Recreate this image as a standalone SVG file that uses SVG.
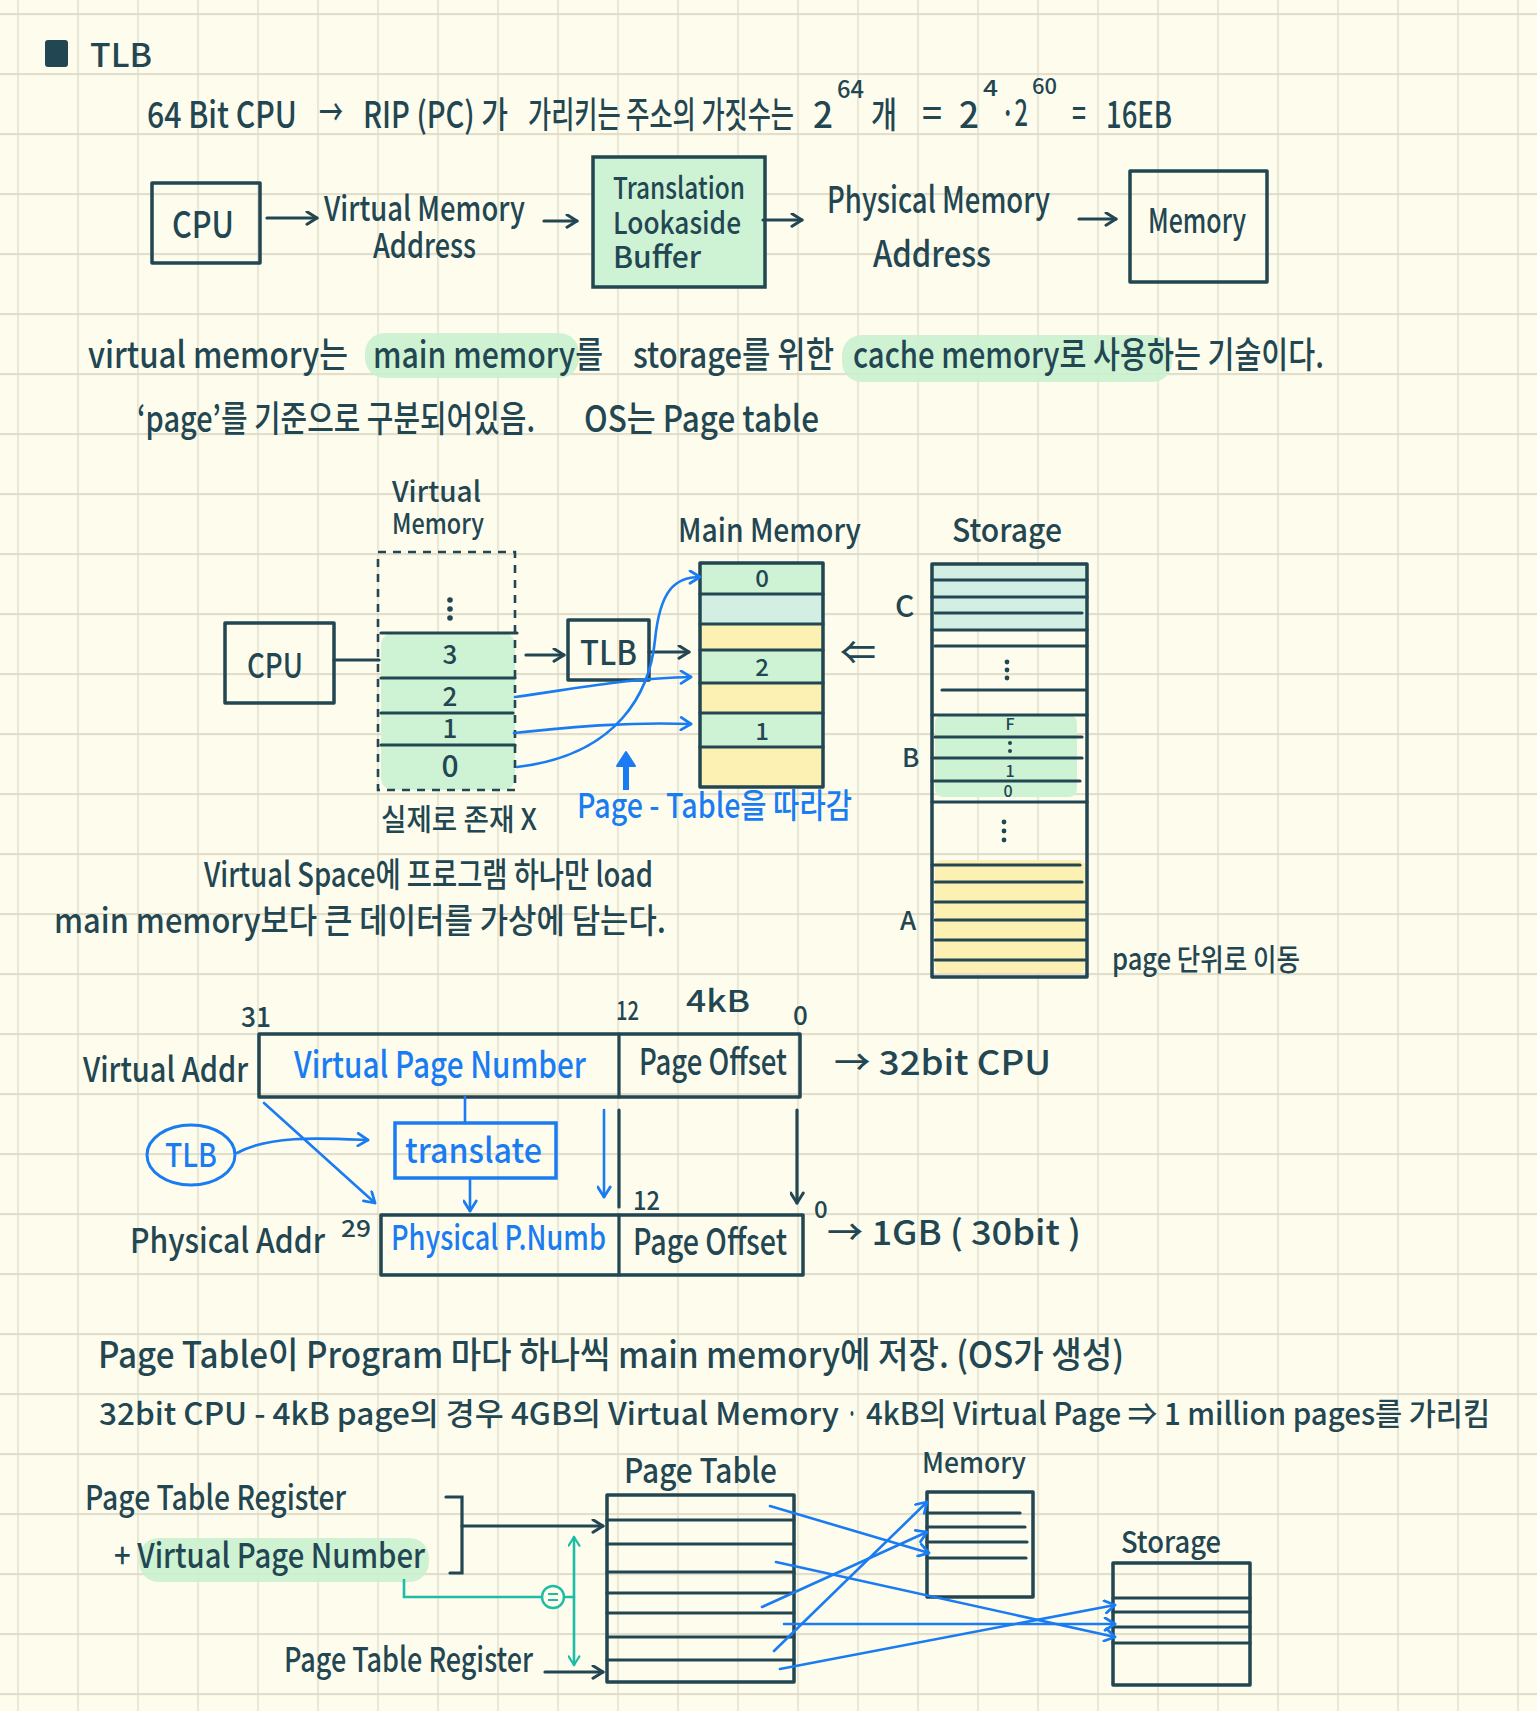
<svg xmlns="http://www.w3.org/2000/svg" width="1537" height="1711" viewBox="0 0 1537 1711">
<defs>
<pattern id="grid" x="17.4" y="13.2" width="60" height="60" patternUnits="userSpaceOnUse">
<rect x="0" y="0" width="60" height="1.7" fill="#dad6c4"/>
<rect x="0" y="0" width="1.2" height="60" fill="#dcd8c6"/>
</pattern>
<marker id="ad" viewBox="0 0 12 12" refX="10" refY="6" markerWidth="15" markerHeight="15" markerUnits="userSpaceOnUse" orient="auto">
<path d="M2,1 L10,6 L2,11" fill="none" stroke="#224652" stroke-width="2.4" stroke-linecap="round" stroke-linejoin="round"/>
</marker>
<marker id="ab" viewBox="0 0 12 12" refX="10" refY="6" markerWidth="15" markerHeight="15" markerUnits="userSpaceOnUse" orient="auto">
<path d="M2,1 L10,6 L2,11" fill="none" stroke="#1a7cf2" stroke-width="2.2" stroke-linecap="round" stroke-linejoin="round"/>
</marker>
<marker id="at" viewBox="0 0 12 12" refX="10" refY="6" markerWidth="13" markerHeight="13" markerUnits="userSpaceOnUse" orient="auto-start-reverse">
<path d="M2,1 L10,6 L2,11" fill="none" stroke="#1dbca6" stroke-width="2" stroke-linecap="round" stroke-linejoin="round"/>
</marker>
</defs>
<style>
text{font-family:"Noto Sans CJK KR","Noto Sans",sans-serif;font-weight:500;fill:#224652}
.b{fill:#1a7cf2}
.box{fill:none;stroke:#224652;stroke-width:3.5;stroke-linejoin:round;stroke-linecap:round}
.ln{fill:none;stroke:#224652;stroke-width:3.2;stroke-linecap:round}
.bl{fill:none;stroke:#1a7cf2;stroke-width:2.6;stroke-linecap:round}
.tl{fill:none;stroke:#1dbca6;stroke-width:2.6;stroke-linecap:round}
.g{fill:#cdf2d4}
.y{fill:#fcf0b2}
.c{fill:#d3efe4}
</style>
<rect width="1537" height="1711" fill="#fefcec"/>
<rect width="1537" height="1711" fill="url(#grid)"/>

<!-- Title -->
<g id="title">
<rect x="45" y="40" width="23" height="27" rx="3" fill="#224652"/>
<text x="90" y="67" font-size="32" textLength="62" lengthAdjust="spacingAndGlyphs">TLB</text>
</g>

<g id="line1">
<text x="147" y="128" font-size="36"><tspan x="147" textLength="150" lengthAdjust="spacingAndGlyphs">64 Bit CPU</tspan><tspan x="319" y="126" textLength="24" lengthAdjust="spacingAndGlyphs">→</tspan><tspan x="363" y="128" textLength="145" lengthAdjust="spacingAndGlyphs">RIP (PC) 가</tspan><tspan x="528" textLength="266" lengthAdjust="spacingAndGlyphs">가리키는 주소의 가짓수는</tspan><tspan x="813" textLength="20" lengthAdjust="spacingAndGlyphs">2</tspan><tspan x="837" y="98" font-size="24" textLength="27" lengthAdjust="spacingAndGlyphs">64</tspan><tspan x="871" y="128" textLength="26" lengthAdjust="spacingAndGlyphs">개</tspan><tspan x="922" y="126" textLength="20" lengthAdjust="spacingAndGlyphs">=</tspan><tspan x="959" y="128" textLength="20" lengthAdjust="spacingAndGlyphs">2</tspan><tspan x="983" y="96" font-size="22" textLength="15" lengthAdjust="spacingAndGlyphs">4</tspan><tspan x="1001" y="126" textLength="27" lengthAdjust="spacingAndGlyphs">·2</tspan><tspan x="1032" y="94" font-size="22" textLength="25" lengthAdjust="spacingAndGlyphs">60</tspan><tspan x="1072" y="126" textLength="14" lengthAdjust="spacingAndGlyphs">=</tspan><tspan x="1106" y="128" textLength="66" lengthAdjust="spacingAndGlyphs">16EB</tspan></text>
</g>

<!-- Flow row -->
<g id="cpu1">
<rect class="box" x="152" y="183" width="108" height="80"/>
<text x="172" y="238" font-size="36" textLength="62" lengthAdjust="spacingAndGlyphs">CPU</text>
</g>
<g id="vma1">
<text font-size="34"><tspan x="324" y="221" textLength="201" lengthAdjust="spacingAndGlyphs">Virtual Memory</tspan><tspan x="373" y="258" textLength="103" lengthAdjust="spacingAndGlyphs">Address</tspan></text>
</g>
<g id="tlb1">
<rect x="593" y="157" width="172" height="130" fill="#cdf2d4" stroke="#224652" stroke-width="3.5"/>
<text font-size="30"><tspan x="613" y="199" textLength="132" lengthAdjust="spacingAndGlyphs">Translation</tspan><tspan x="613" y="234" textLength="128" lengthAdjust="spacingAndGlyphs">Lookaside</tspan><tspan x="613" y="268" textLength="88" lengthAdjust="spacingAndGlyphs">Buffer</tspan></text>
</g>
<g id="pma1">
<text font-size="36"><tspan x="827" y="213" textLength="223" lengthAdjust="spacingAndGlyphs">Physical Memory</tspan><tspan x="873" y="267" textLength="118" lengthAdjust="spacingAndGlyphs">Address</tspan></text>
</g>
<g id="mem1">
<rect class="box" x="1130" y="171" width="137" height="111"/>
<text x="1148" y="233" font-size="34" textLength="98" lengthAdjust="spacingAndGlyphs">Memory</text>
</g>

<!-- paragraph -->
<g id="para">
<rect x="365" y="333" width="214" height="45" rx="20" fill="#c9f1cf" opacity="0.9"/>
<rect x="842" y="335" width="330" height="47" rx="20" fill="#c9f1cf" opacity="0.9"/>
<text font-size="36"><tspan x="88" y="368" textLength="260" lengthAdjust="spacingAndGlyphs">virtual memory는</tspan><tspan x="373" textLength="230" lengthAdjust="spacingAndGlyphs">main memory를</tspan><tspan x="633" textLength="201" lengthAdjust="spacingAndGlyphs">storage를 위한</tspan><tspan x="853" textLength="471" lengthAdjust="spacingAndGlyphs">cache memory로 사용하는 기술이다.</tspan></text>
<text font-size="36"><tspan x="137" y="432" textLength="398" lengthAdjust="spacingAndGlyphs">‘page’를 기준으로 구분되어있음.</tspan><tspan x="584" textLength="235" lengthAdjust="spacingAndGlyphs">OS는 Page table</tspan></text>
</g>

<!-- Virtual memory diagram -->
<g id="vm">
<text font-size="28"><tspan x="392" y="502" textLength="89" lengthAdjust="spacingAndGlyphs">Virtual</tspan><tspan x="392" y="534" textLength="92" lengthAdjust="spacingAndGlyphs">Memory</tspan></text>
<rect x="381" y="633" width="134" height="157" rx="12" class="g"/>
<rect x="378" y="552" width="137" height="238" fill="none" stroke="#224652" stroke-width="2.6" stroke-dasharray="8 7"/>
<circle cx="450" cy="600" r="2.8" fill="#224652"/>
<circle cx="450" cy="609" r="2.8" fill="#224652"/>
<circle cx="450" cy="618" r="2.8" fill="#224652"/>
<path class="ln" d="M381,633 H517 M381,678 H515 M381,713 H513 M381,745 H515"/>
<text x="450" y="664" font-size="26" text-anchor="middle">3</text>
<text x="450" y="706" font-size="26" text-anchor="middle">2</text>
<text x="450" y="738" font-size="26" text-anchor="middle">1</text>
<text x="450" y="777" font-size="30" text-anchor="middle">0</text>
<text x="381" y="830" font-size="30" textLength="156" lengthAdjust="spacingAndGlyphs">실제로 존재 X</text>
</g>
<g id="cpu2">
<rect class="box" x="225" y="623" width="109" height="80"/>
<text x="247" y="678" font-size="34" textLength="56" lengthAdjust="spacingAndGlyphs">CPU</text>
</g>
<g id="tlb2">
<rect class="box" x="568" y="620" width="81" height="60"/>
<text x="580" y="665" font-size="34" textLength="57" lengthAdjust="spacingAndGlyphs">TLB</text>
</g>
<g id="mainmem">
<text x="678" y="542" font-size="32" textLength="183" lengthAdjust="spacingAndGlyphs">Main Memory</text>
<rect x="700" y="563" width="123" height="31" class="g"/>
<rect x="700" y="594" width="123" height="30" class="c"/>
<rect x="700" y="624" width="123" height="26" class="y"/>
<rect x="700" y="650" width="123" height="33" class="g"/>
<rect x="700" y="683" width="123" height="30" class="y"/>
<rect x="700" y="713" width="123" height="34" class="g"/>
<rect x="700" y="747" width="123" height="40" class="y"/>
<rect class="box" x="700" y="563" width="123" height="224"/>
<path class="ln" d="M700,594 H823 M700,624 H823 M700,650 H823 M700,683 H823 M700,713 H823 M700,747 H823"/>
<text x="762" y="587" font-size="24" text-anchor="middle">0</text>
<text x="762" y="676" font-size="24" text-anchor="middle">2</text>
<text x="762" y="740" font-size="24" text-anchor="middle">1</text>
<text x="840" y="664" font-size="32" textLength="36" lengthAdjust="spacingAndGlyphs">⇐</text>
</g>
<g id="storage">
<text x="952" y="542" font-size="32" textLength="110" lengthAdjust="spacingAndGlyphs">Storage</text>
<rect x="932" y="564" width="155" height="66" class="c"/>
<rect x="935" y="715" width="142" height="82" rx="8" class="g"/>
<rect x="935" y="860" width="150" height="113" rx="6" class="y"/>
<rect class="box" x="932" y="564" width="155" height="413"/>
<path class="ln" d="M932,580 H1087 M932,597 H1087 M935,613 H1082 M932,630 H1087 M935,646 H1087 M942,690 H1085 M932,715 H1087 M935,737 H1082 M932,758 H1082 M932,781 H1080 M932,802 H1087 M932,865 H1080 M935,882 H1082 M935,902 H1085 M935,920 H1085 M935,940 H1085 M935,960 H1085"/>
<circle cx="1007" cy="662" r="2.4" fill="#224652"/>
<circle cx="1007" cy="670" r="2.4" fill="#224652"/>
<circle cx="1007" cy="678" r="2.4" fill="#224652"/>
<circle cx="1004" cy="822" r="2.4" fill="#224652"/>
<circle cx="1004" cy="831" r="2.4" fill="#224652"/>
<circle cx="1004" cy="840" r="2.4" fill="#224652"/>
<circle cx="1010" cy="743" r="2" fill="#224652"/>
<circle cx="1010" cy="751" r="2" fill="#224652"/>
<text font-size="16" text-anchor="middle"><tspan x="1010" y="730">F</tspan><tspan x="1010" y="777">1</tspan><tspan x="1008" y="797">0</tspan></text>
<text x="895" y="617" font-size="30">C</text>
<text x="902" y="767" font-size="26">B</text>
<text x="900" y="930" font-size="26">A</text>
<text x="1112" y="970" font-size="30" textLength="188" lengthAdjust="spacingAndGlyphs">page 단위로 이동</text>
</g>
<g id="pt-label">
<text class="b" x="577" y="818" font-size="34" textLength="275" lengthAdjust="spacingAndGlyphs">Page - Table을 따라감</text>
<path d="M626,790 V764" stroke="#1a7cf2" stroke-width="6"/>
<path d="M617,766 L626,752 L635,766 Z" fill="#1a7cf2" stroke="#1a7cf2" stroke-width="2" stroke-linejoin="round"/>
</g>
<g id="vs-text">
<text font-size="34"><tspan x="204" y="887" textLength="449" lengthAdjust="spacingAndGlyphs">Virtual Space에 프로그램 하나만 load</tspan><tspan x="54" y="933" textLength="612" lengthAdjust="spacingAndGlyphs">main memory보다 큰 데이터를 가상에 담는다.</tspan></text>
</g>

<!-- Address diagram -->
<g id="vaddr">
<text x="241" y="1027" font-size="28" textLength="30" lengthAdjust="spacingAndGlyphs">31</text>
<text x="616" y="1020" font-size="26" textLength="23" lengthAdjust="spacingAndGlyphs">12</text>
<text x="686" y="1012" font-size="30" textLength="64" lengthAdjust="spacingAndGlyphs">4kB</text>
<text x="793" y="1025" font-size="26">0</text>
<text x="83" y="1082" font-size="34" textLength="165" lengthAdjust="spacingAndGlyphs">Virtual Addr</text>
<rect class="box" x="259" y="1034" width="541" height="63"/>
<path class="ln" d="M619,1034 V1097"/>
<text class="b" x="294" y="1078" font-size="36" textLength="292" lengthAdjust="spacingAndGlyphs">Virtual Page Number</text>
<text x="639" y="1075" font-size="36" textLength="148" lengthAdjust="spacingAndGlyphs">Page Offset</text>
<text x="834" y="1075" font-size="34" textLength="217" lengthAdjust="spacingAndGlyphs">→ 32bit CPU</text>
</g>
<g id="translate">
<rect x="395" y="1123" width="161" height="55" fill="none" stroke="#1a7cf2" stroke-width="3.5"/>
<text class="b" x="405" y="1163" font-size="34" textLength="137" lengthAdjust="spacingAndGlyphs">translate</text>
</g>
<g id="tlb3">
<ellipse cx="191" cy="1155" rx="44" ry="30" fill="none" stroke="#1a7cf2" stroke-width="3"/>
<text class="b" x="191" y="1167" font-size="32" text-anchor="middle" textLength="52" lengthAdjust="spacingAndGlyphs">TLB</text>
</g>
<g id="paddr">
<text x="341" y="1237" font-size="24" textLength="30" lengthAdjust="spacingAndGlyphs">29</text>
<text x="633" y="1210" font-size="26" textLength="27" lengthAdjust="spacingAndGlyphs">12</text>
<text x="814" y="1218" font-size="24">0</text>
<text x="130" y="1253" font-size="34" textLength="195" lengthAdjust="spacingAndGlyphs">Physical Addr</text>
<rect class="box" x="381" y="1215" width="422" height="60"/>
<path class="ln" d="M619,1215 V1275"/>
<text class="b" x="391" y="1250" font-size="34" textLength="215" lengthAdjust="spacingAndGlyphs">Physical P.Numb</text>
<text x="633" y="1255" font-size="36" textLength="154" lengthAdjust="spacingAndGlyphs">Page Offset</text>
<text x="827" y="1245" font-size="34" textLength="254" lengthAdjust="spacingAndGlyphs">→ 1GB ( 30bit )</text>
</g>

<!-- bottom text -->
<g id="notes">
<text x="98" y="1368" font-size="36" textLength="1026" lengthAdjust="spacingAndGlyphs">Page Table이 Program 마다 하나씩 main memory에 저장. (OS가 생성)</text>
<text font-size="31"><tspan x="99" y="1425" textLength="740" lengthAdjust="spacingAndGlyphs">32bit CPU - 4kB page의 경우  4GB의 Virtual Memory</tspan><tspan x="847" textLength="10" lengthAdjust="spacingAndGlyphs">·</tspan><tspan x="866" textLength="624" lengthAdjust="spacingAndGlyphs">4kB의 Virtual Page ⇒ 1 million pages를 가리킴</tspan></text>
</g>

<!-- page table diagram -->
<g id="ptr">
<rect x="139" y="1538" width="290" height="44" rx="20" fill="#c9f1cf" opacity="0.9"/>
<text font-size="34"><tspan x="85" y="1510" textLength="261" lengthAdjust="spacingAndGlyphs">Page Table Register</tspan><tspan x="114" y="1568" textLength="311" lengthAdjust="spacingAndGlyphs">+ Virtual Page Number</tspan></text>
<path class="ln" d="M446,1497 H462 V1573 H450"/>
</g>
<g id="ptr2">
<text x="284" y="1672" font-size="34" textLength="249" lengthAdjust="spacingAndGlyphs">Page Table Register</text>
</g>
<g id="pagetable">
<text x="624" y="1483" font-size="34" textLength="153" lengthAdjust="spacingAndGlyphs">Page Table</text>
<rect class="box" x="607" y="1495" width="187" height="187"/>
<path class="ln" d="M607,1520 H794 M607,1544 H794 M607,1572 H794 M607,1593 H794 M607,1613 H794 M607,1637 H794 M607,1660 H794"/>
</g>
<g id="memory2">
<text x="922" y="1473" font-size="28" textLength="104" lengthAdjust="spacingAndGlyphs">Memory</text>
<rect class="box" x="927" y="1492" width="106" height="105"/>
<path class="ln" d="M927,1513 H1020 M927,1527 H1025 M927,1542 H1027 M927,1558 H1026"/>
</g>
<g id="storage2">
<text x="1121" y="1553" font-size="30" textLength="100" lengthAdjust="spacingAndGlyphs">Storage</text>
<rect class="box" x="1113" y="1563" width="137" height="122"/>
<path class="ln" d="M1113,1598 H1250 M1113,1612 H1250 M1113,1627 H1250 M1113,1643 H1250"/>
</g>
<g id="eq">
<circle cx="553" cy="1597" r="11" fill="#fefcec" stroke="#1dbca6" stroke-width="2.4"/>
<path d="M548,1594 H558 M548,1600 H558" stroke="#1dbca6" stroke-width="2"/>
</g>

<!-- connectors -->
<g id="connectors">
<path class="ln" d="M267,218 H317" marker-end="url(#ad)"/>
<path class="ln" d="M544,221 H577" marker-end="url(#ad)"/>
<path class="ln" d="M763,220 H802" marker-end="url(#ad)"/>
<path class="ln" d="M1079,219 H1116" marker-end="url(#ad)"/>
<path class="ln" d="M334,660 H379"/>
<path class="ln" d="M526,655 H564" marker-end="url(#ad)"/>
<path class="ln" d="M649,652 H689" marker-end="url(#ad)"/>
<path class="bl" d="M515,697 C580,688 630,678 691,677" marker-end="url(#ab)"/>
<path class="bl" d="M514,733 C580,726 630,722 691,724" marker-end="url(#ab)"/>
<path class="bl" d="M517,767 C620,755 650,690 655,640 C660,590 675,577 700,577" marker-end="url(#ab)"/>
<path class="bl" d="M465,1097 V1123"/>
<path class="bl" d="M470,1178 V1211" marker-end="url(#ab)"/>
<path class="bl" d="M237,1153 C270,1135 320,1138 368,1140" marker-end="url(#ab)"/>
<path class="bl" d="M264,1103 L375,1203" marker-end="url(#ab)"/>
<path class="bl" d="M604,1110 V1197" marker-end="url(#ab)"/>
<path class="ln" d="M619,1110 V1207"/>
<path class="ln" d="M797,1110 V1203" marker-end="url(#ad)"/>
<path class="ln" d="M462,1526 H603" marker-end="url(#ad)"/>
<path class="ln" d="M545,1672 H603" marker-end="url(#ad)"/>
<path class="tl" d="M574,1537 V1665" marker-start="url(#at)" marker-end="url(#at)"/>
<path class="tl" d="M404,1580 V1597 H542 M564,1597 H574"/>
<path class="bl" d="M770,1506 L929,1553" marker-end="url(#ab)"/>
<path class="bl" d="M776,1562 L1115,1637" marker-end="url(#ab)"/>
<path class="bl" d="M762,1607 L927,1532" marker-end="url(#ab)"/>
<path class="bl" d="M784,1624 L1115,1624" marker-end="url(#ab)"/>
<path class="bl" d="M774,1651 L927,1502" marker-end="url(#ab)"/>
<path class="bl" d="M780,1669 L1115,1605" marker-end="url(#ab)"/>
</g>
</svg>
